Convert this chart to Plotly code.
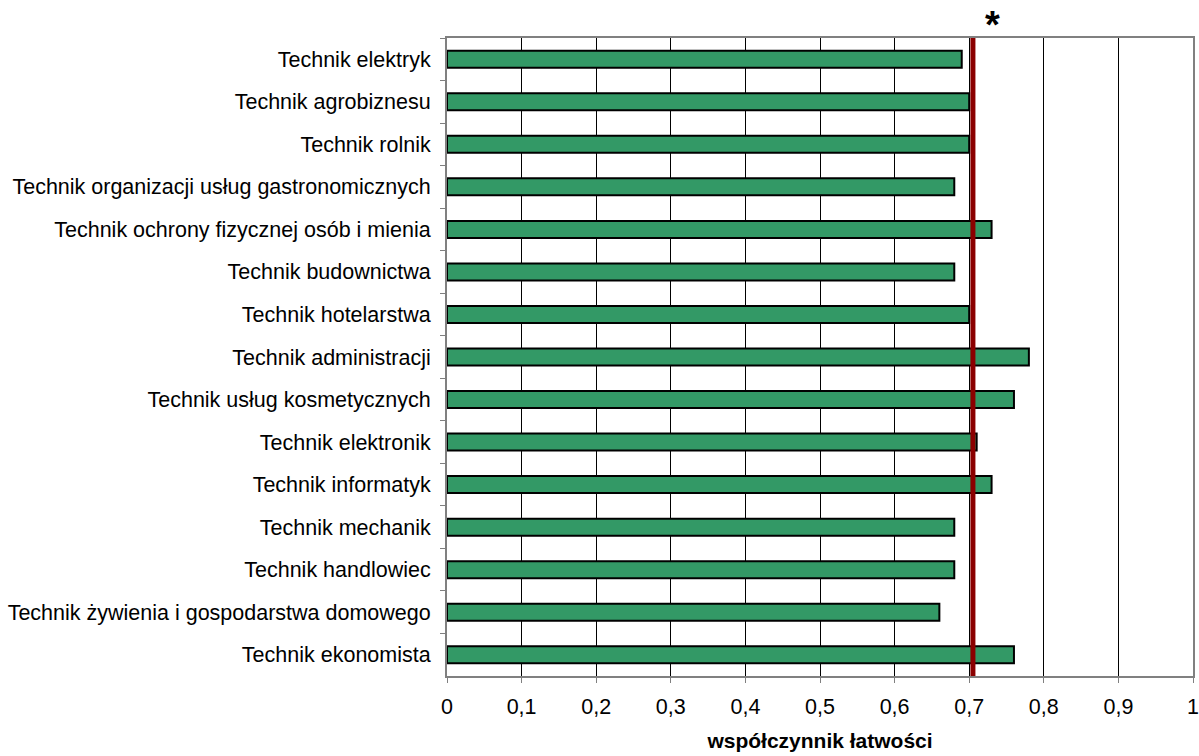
import plotly.graph_objects as go

zawody = [
    'Technik elektryk',
    'Technik agrobiznesu',
    'Technik rolnik',
    'Technik organizacji usług gastronomicznych',
    'Technik ochrony fizycznej osób i mienia',
    'Technik budownictwa',
    'Technik hotelarstwa',
    'Technik administracji',
    'Technik usług kosmetycznych',
    'Technik elektronik',
    'Technik informatyk',
    'Technik mechanik',
    'Technik handlowiec',
    'Technik żywienia i gospodarstwa domowego',
    'Technik ekonomista',
]
wspolczynnik = [0.69, 0.70, 0.70, 0.68, 0.73, 0.68, 0.70, 0.78, 0.76, 0.71,
                0.73, 0.68, 0.68, 0.66, 0.76]
srednia = 0.705

fig = go.Figure(go.Bar(
    x=wspolczynnik,
    y=zawody,
    orientation='h',
    marker_color='#339966',
    marker_line_color='black',
    marker_line_width=2,
))

# srednia - czerwona linia
fig.add_shape(type='line', x0=srednia, x1=srednia, y0=0, y1=1,
              xref='x', yref='paper', line=dict(color='#8B0000', width=5))

fig.add_annotation(x=0.731, y=1, xref='x', yref='paper', text='<b>*</b>',
                   showarrow=False, yanchor='bottom', yshift=-10,
                   font=dict(size=38, color='black'))

fig.update_layout(
    width=1199, height=756,
    margin=dict(l=447, r=6, t=38, b=80),
    plot_bgcolor='rgb(255,255,255)',
    paper_bgcolor='rgb(255,255,255)',
    separators=', ',
    bargap=0.6,
    showlegend=False,
    font=dict(family='Liberation Sans, Arial', size=21.5, color='black'),
)
fig.update_xaxes(
    range=[0, 1], dtick=0.1, showgrid=True, gridcolor='black', gridwidth=1,
    showline=True, linecolor='#808080', linewidth=2, mirror=True,
    ticks='outside', ticklen=5, tickcolor='#808080', zeroline=False,
    ticklabelstandoff=5, automargin=False,
    title=dict(text='<b>współczynnik łatwości</b>', standoff=16,
               font=dict(size=21)),
)
fig.update_yaxes(
    autorange='reversed', tickson='boundaries', ticks='outside', ticklen=5,
    tickcolor='#808080', showline=True, linecolor='#808080', linewidth=2,
    mirror=True, showgrid=False, ticklabelstandoff=10, automargin=False,
)

fig.write_html('out.html', config={'displayModeBar': False},
               post_script="document.body.style.margin='0';"
                           "document.body.style.overflow='hidden';")
